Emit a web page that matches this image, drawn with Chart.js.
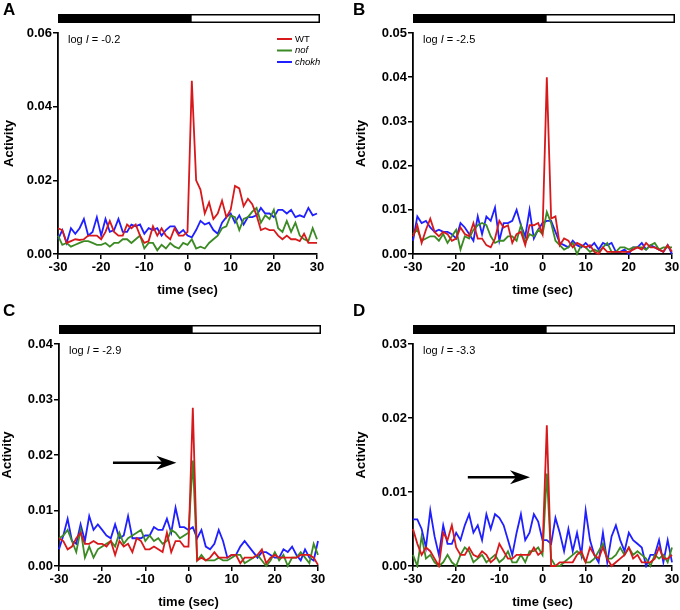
<!DOCTYPE html>
<html>
<head>
<meta charset="utf-8">
<script src="https://cdn.jsdelivr.net/npm/chart.js@4.4.1/dist/chart.umd.min.js"></script>
<style>
    body { margin: 0; background: #fff; }
    #wrap { position: relative; width: 680px; height: 610px; }
    canvas { position: absolute; }
</style>
</head>
<body>
<div id="wrap">
    <canvas id="panelA" width="340" height="300" style="left:0;top:0"></canvas>
    <canvas id="panelB" width="340" height="300" style="left:340px;top:0"></canvas>
    <canvas id="panelC" width="340" height="310" style="left:0;top:300px"></canvas>
    <canvas id="panelD" width="340" height="310" style="left:340px;top:300px"></canvas>
</div>
<script>
// time axis, 1 s bins
let times = [-30, -29, -28, -27, -26, -25, -24, -23, -22, -21, -20, -19, -18, -17, -16, -15, -14, -13, -12, -11,
    -10, -9, -8, -7, -6, -5, -4, -3, -2, -1, 0, 1, 2, 3, 4, 5, 6, 7, 8, 9, 10,
    11, 12, 13, 14, 15, 16, 17, 18, 19, 20, 21, 22, 23, 24, 25, 26, 27, 28, 29, 30];
let xTicks = [-30, -20, -10, 0, 10, 20, 30];
let seriesNames = ["WT", "nof", "chokh"];
let seriesColors = ["#d7191c", "#3b8a23", "#1f1fff"];

// panel A, log I = -0.2
let wtA = [0.007, 0.0065, 0.003, 0.0035, 0.004, 0.0038, 0.004, 0.005, 0.005, 0.005, 0.004, 0.006, 0.009, 0.006, 0.005, 0.005, 0.008, 0.007, 0.008, 0.005,
    0.003, 0.0035, 0.0075, 0.005, 0.007, 0.005, 0.004, 0.007, 0.005, 0.005, 0.006, 0.047, 0.020, 0.0175, 0.011, 0.014, 0.0095, 0.011, 0.0145, 0.010, 0.012,
    0.0185, 0.0178, 0.013, 0.015, 0.0135, 0.0105, 0.0065, 0.007, 0.0065, 0.0065, 0.005, 0.004, 0.005, 0.004, 0.004, 0.0035, 0.0055, 0.003, 0.003, 0.003];
let nofA = [0.005, 0.0025, 0.003, 0.002, 0.0025, 0.003, 0.0035, 0.0035, 0.003, 0.0025, 0.0025, 0.003, 0.002, 0.003, 0.003, 0.004, 0.004, 0.003, 0.004, 0.005,
    0.0015, 0.003, 0.003, 0.001, 0.0025, 0.0015, 0.003, 0.002, 0.0015, 0.003, 0.0025, 0.004, 0.0015, 0.002, 0.0015, 0.003, 0.004, 0.005, 0.007, 0.0075, 0.0105,
    0.010, 0.0065, 0.0095, 0.010, 0.0115, 0.0125, 0.0085, 0.0105, 0.0095, 0.012, 0.007, 0.006, 0.009, 0.006, 0.0085, 0.005, 0.004, 0.0035, 0.007, 0.004];
let chokhA = [0.004, 0.0065, 0.003, 0.007, 0.0055, 0.007, 0.0095, 0.005, 0.006, 0.010, 0.005, 0.0095, 0.006, 0.0065, 0.0095, 0.006, 0.006, 0.008, 0.0075, 0.008,
    0.0055, 0.007, 0.0065, 0.007, 0.005, 0.0065, 0.0075, 0.0075, 0.0055, 0.0065, 0.005, 0.0045, 0.0065, 0.009, 0.008, 0.0085, 0.0065, 0.0055, 0.0085, 0.010, 0.011,
    0.0085, 0.0105, 0.008, 0.010, 0.010, 0.0105, 0.0125, 0.011, 0.011, 0.010, 0.012, 0.012, 0.011, 0.012, 0.010, 0.0105, 0.010, 0.0125, 0.0105, 0.011];

// panel B, log I = -2.5
let wtB = [0.004, 0.0065, 0.0025, 0.0055, 0.008, 0.005, 0.004, 0.005, 0.0045, 0.003, 0.0035, 0.006, 0.0045, 0.004, 0.007, 0.0035, 0.0035, 0.002, 0.0015, 0.0035,
    0.0075, 0.006, 0.0065, 0.0025, 0.0045, 0.005, 0.002, 0.0065, 0.0065, 0.007, 0.0045, 0.040, 0.008, 0.0085, 0.002, 0.0035, 0.003, 0.0015, 0.0025, 0.002, 0.0015,
    0.002, 0.0005, 0, 0.0015, 0.0005, 0.0005, 0.0005, 0.0005, 0.0005, 0.0005, 0.001, 0.0015, 0.001, 0.0025, 0.0015, 0.0015, 0.001, 0.0005, 0.002, 0.0005];
let nofB = [0.0045, 0.0055, 0.003, 0.0035, 0.004, 0.004, 0.003, 0.0045, 0.0025, 0.004, 0.0055, 0.001, 0.004, 0.0035, 0.0055, 0.0065, 0.007, 0.0065, 0.004, 0.0025,
    0.003, 0.003, 0.004, 0.004, 0.003, 0.0065, 0.0025, 0.0045, 0.004, 0.0055, 0.0045, 0.0095, 0.007, 0.003, 0.002, 0.001, 0.0015, 0.0025, 0, 0.002, 0.0015,
    0.0005, 0.001, 0.0005, 0.0015, 0.0025, 0.0005, 0.0005, 0.0015, 0.0015, 0.001, 0.0015, 0.0015, 0.0015, 0.001, 0.002, 0.0025, 0.001, 0.0015, 0.0015, 0.0015];
let chokhB = [0.003, 0.0085, 0.007, 0.0075, 0.006, 0.005, 0.0055, 0.005, 0.005, 0.0045, 0.0035, 0.007, 0.006, 0.0045, 0.003, 0.0085, 0.0045, 0.0085, 0.0075, 0.0105,
    0.003, 0.007, 0.007, 0.0075, 0.010, 0.0065, 0.004, 0.010, 0.0035, 0.0055, 0.007, 0.0075, 0.0075, 0.005, 0.0025, 0.002, 0.0015, 0.003, 0.002, 0.0015, 0.0025,
    0.0015, 0.0025, 0.001, 0.0025, 0.002, 0.0025, 0.0005, 0.0005, 0.001, 0, 0.0015, 0.0015, 0.0025, 0.001, 0.002, 0.0015, 0.001, 0.0005, 0.002, 0];

// panel C, log I = -2.9
let wtC = [0.005, 0.0045, 0.003, 0.0035, 0.005, 0.006, 0.004, 0.004, 0.0045, 0.004, 0.004, 0.0035, 0.0045, 0.002, 0.0045, 0.0035, 0.004, 0.0025, 0.005, 0.0045,
    0.003, 0.003, 0.0035, 0.003, 0.0025, 0.006, 0.0025, 0.0045, 0.0045, 0.0035, 0.0035, 0.0285, 0.001, 0.0015, 0.001, 0.0015, 0.0025, 0.0015, 0.0015, 0.0015, 0.002,
    0.002, 0.0005, 0.0015, 0.0015, 0.0015, 0.002, 0.003, 0.0005, 0.0015, 0.002, 0.0015, 0.0015, 0.0015, 0.0015, 0.0015, 0.002, 0.002, 0.002, 0.0015, 0.0002];
let nofC = [0.005, 0.0055, 0.0065, 0.0045, 0.0025, 0.0065, 0.0015, 0.0035, 0.0015, 0.003, 0.0035, 0.004, 0.0045, 0.0035, 0.006, 0.004, 0.005, 0.0055, 0.006, 0.0065,
    0.0045, 0.0055, 0.0045, 0.005, 0.004, 0.0045, 0.0065, 0.006, 0.005, 0.0055, 0.006, 0.019, 0.001, 0.002, 0.001, 0.001, 0.001, 0.0015, 0.001, 0.001, 0.0015,
    0.002, 0.002, 0.0005, 0.001, 0.0015, 0.002, 0.001, 0, 0.001, 0.0025, 0.001, 0.002, 0, 0.0015, 0.0015, 0.0025, 0.0015, 0.0005, 0.004, 0.002];
let chokhC = [0.003, 0.0055, 0.0085, 0.0045, 0.004, 0.0075, 0.0045, 0.009, 0.0065, 0.0075, 0.0065, 0.0055, 0.005, 0.0075, 0.005, 0.0055, 0.009, 0.005, 0.005, 0.005,
    0.0055, 0.0055, 0.007, 0.0065, 0.0065, 0.0085, 0.006, 0.0105, 0.007, 0.007, 0.0065, 0.007, 0.005, 0.0065, 0.0035, 0.003, 0.004, 0.0065, 0.0045, 0.0015, 0.002,
    0.002, 0.0035, 0.0045, 0.0035, 0.0025, 0.0015, 0.0025, 0.0025, 0.002, 0.0015, 0.0015, 0.003, 0.0025, 0.0035, 0.002, 0.001, 0.003, 0.0015, 0.001, 0.0045];

// panel D, log I = -3.3
let wtD = [0.005, 0.003, 0.0015, 0.0025, 0.002, 0.001, 0, 0.0045, 0.0035, 0.0055, 0.0025, 0.0015, 0.0015, 0.0025, 0.0015, 0.0012, 0.002, 0.0015, 0.0005, 0.001,
    0.003, 0.002, 0.001, 0.001, 0.0015, 0.0015, 0.0015, 0.0015, 0.0025, 0.0015, 0.002, 0.019, 0, 0, 0.0005, 0.0005, 0.0005, 0.0005, 0.0015, 0.002, 0.0005,
    0.0025, 0.0015, 0.001, 0.0025, 0.001, 0, 0.0005, 0.001, 0.0015, 0.0025, 0.001, 0.0015, 0.0005, 0.0005, 0.0005, 0.001, 0.0025, 0.001, 0.001, 0.0015];
let nofD = [0.0015, 0, 0.004, 0.001, 0.0015, 0.0005, 0, 0.0005, 0.0015, 0.0005, 0, 0.0015, 0.0025, 0.002, 0.0005, 0.001, 0.0015, 0.0005, 0.001, 0.0015,
    0.0005, 0.001, 0.002, 0.0005, 0.0005, 0.0015, 0.0005, 0.002, 0.002, 0.0025, 0.0015, 0.0125, 0.001, 0, 0, 0.0005, 0.001, 0.0015, 0.002, 0.0015, 0.0005,
    0.0005, 0.001, 0.002, 0.003, 0.001, 0.001, 0.0015, 0.0025, 0.0015, 0.0025, 0.0015, 0.002, 0.0015, 0.001, 0, 0.0015, 0.001, 0.0015, 0.0005, 0.0025];
let chokhD = [0.0063, 0.0063, 0.005, 0.0025, 0.0075, 0.004, 0.0015, 0.0055, 0.003, 0.003, 0.0045, 0.0035, 0.0055, 0.007, 0.0045, 0.0055, 0.0035, 0.007, 0.005, 0.007,
    0.0065, 0.0055, 0.0035, 0.0015, 0.0045, 0.007, 0.0035, 0.0045, 0.007, 0.006, 0.0035, 0.0035, 0.003, 0.0065, 0.0045, 0.002, 0.005, 0.002, 0.0045, 0.0015, 0.0075,
    0.0035, 0.0015, 0.0005, 0.0045, 0.0005, 0.004, 0.0055, 0.0035, 0.002, 0.0045, 0.0035, 0.003, 0.0025, 0, 0.0015, 0.0015, 0.0035, 0.0005, 0.0035, 0.0005];

let yMaxes = [0.06, 0.05, 0.04, 0.03];
let ySteps = [0.02, 0.01, 0.01, 0.01];
let logLabels = ["-0.2", "-2.5", "-2.9", "-3.3"];
let panelLetters = ["A", "B", "C", "D"];
// arrow annotations in C and D: [x start, x end, y]
let arrowC = [-17.5, -2.8, 0.0186];
let arrowD = [-17.3, -2.9, 0.012];

const FONT = "'Liberation Sans', Arial, Helvetica, sans-serif";

function drawArrow(ctx, x0, x1, y) {
    ctx.save();
    ctx.strokeStyle = "#000";
    ctx.fillStyle = "#000";
    ctx.lineWidth = 2.5;
    ctx.beginPath();
    ctx.moveTo(x0, y);
    ctx.lineTo(x1 - 10, y);
    ctx.stroke();
    ctx.beginPath();
    ctx.moveTo(x1, y);
    ctx.lineTo(x1 - 20, y - 7);
    ctx.lineTo(x1 - 14, y);
    ctx.lineTo(x1 - 20, y + 7);
    ctx.closePath();
    ctx.fill();
    ctx.restore();
}

// panel letter, light bar, log I label, legend and arrows
const decoPlugin = {
    id: "deco",
    afterDraw(chart, args, opts) {
        const ctx = chart.ctx;
        const area = chart.chartArea;
        const xs = chart.scales.x;
        const ys = chart.scales.y;
        ctx.save();

        ctx.fillStyle = "#000";
        ctx.font = "bold 17px " + FONT;
        ctx.textBaseline = "top";
        ctx.textAlign = "left";
        ctx.fillText(opts.letter, opts.letterX, opts.letterY);

        // dark / light bar
        let bx0 = xs.getPixelForValue(-30);
        let bx1 = xs.getPixelForValue(30) + 3;
        let bm = xs.getPixelForValue(1);
        let by = area.top - 19;
        ctx.fillStyle = "#000";
        ctx.fillRect(bx0, by, bm - bx0, 9);
        ctx.fillStyle = "#fff";
        ctx.fillRect(bm, by, bx1 - bm, 9);
        ctx.strokeStyle = "#000";
        ctx.lineWidth = 1.5;
        ctx.strokeRect(bx0 + 0.75, by + 0.75, bx1 - bx0 - 1.5, 7.5);

        // log I label
        ctx.fillStyle = "#000";
        ctx.textBaseline = "middle";
        let tx = area.left + 10;
        let ty = area.top + 7;
        ctx.font = "11px " + FONT;
        ctx.fillText("log ", tx, ty);
        tx += ctx.measureText("log ").width;
        ctx.font = "italic 11px " + FONT;
        ctx.fillText("I", tx, ty);
        tx += ctx.measureText("I").width;
        ctx.font = "11px " + FONT;
        ctx.fillText(" = " + opts.logI, tx, ty);

        if (opts.legend) {
            chart.data.datasets.forEach(function (ds, i) {
                let ly = area.top + 6 + i * 11.5;
                ctx.strokeStyle = ds.borderColor;
                ctx.lineWidth = 2;
                ctx.beginPath();
                ctx.moveTo(area.right - 40, ly);
                ctx.lineTo(area.right - 25, ly);
                ctx.stroke();
                ctx.fillStyle = "#000";
                ctx.font = (i == 0 ? "" : "italic ") + "9.5px " + FONT;
                ctx.fillText(ds.label, area.right - 22, ly);
            });
        }

        if (opts.arrow) {
            drawArrow(ctx, xs.getPixelForValue(opts.arrow[0]), xs.getPixelForValue(opts.arrow[1]), ys.getPixelForValue(opts.arrow[2]));
        }
        ctx.restore();
    },
};

function makePanel(id, idx, series, box) {
    let ctx = document.getElementById(id).getContext("2d");
    let canvasH = document.getElementById(id).height;
    return new Chart(ctx, {
        type: "line",
        data: {
            datasets: series.map(function (vals, i) {
                return {
                    label: seriesNames[i],
                    data: times.map(function (t, k) { return { x: t, y: vals[k] }; }),
                    borderColor: seriesColors[i],
                    borderWidth: 1.8,
                    pointRadius: 0,
                    tension: 0,
                    fill: false,
                    clip: 2,
                };
            }),
        },
        options: {
            responsive: false,
            animation: false,
            events: [],
            layout: {
                padding: { left: box.padLeft, right: 340 - box.right, top: box.top, bottom: 0 },
            },
            scales: {
                x: {
                    type: "linear",
                    min: -30,
                    max: 30,
                    afterBuildTicks: function (scale) {
                        scale.ticks = xTicks.map(function (v) { return { value: v }; });
                    },
                    afterFit: function (scale) {
                        scale.height = canvasH - box.bottom;
                        scale.paddingLeft = 0;
                        scale.paddingRight = 0;
                    },
                    grid: { drawOnChartArea: false, drawTicks: true, tickLength: 5, color: "#000", lineWidth: 1.5 },
                    border: { display: true, color: "#000", width: 1.8 },
                    ticks: { color: "#000", padding: 1, maxRotation: 0, font: { family: FONT, size: 13, weight: "bold" } },
                    title: {
                        display: true,
                        text: "time (sec)",
                        color: "#000",
                        padding: { top: 0, bottom: box.xTitlePad },
                        font: { family: FONT, size: 13, weight: "bold" },
                    },
                },
                y: {
                    min: 0,
                    max: yMaxes[idx],
                    ticks: {
                        stepSize: ySteps[idx],
                        color: "#000",
                        padding: 1,
                        font: { family: FONT, size: 13, weight: "bold" },
                        callback: function (v) { return v.toFixed(2); },
                    },
                    afterFit: function (scale) {
                        scale.width = box.left - box.padLeft;
                    },
                    grid: { drawOnChartArea: false, drawTicks: true, tickLength: 5, color: "#000", lineWidth: 1.5 },
                    border: { display: true, color: "#000", width: 1.8 },
                    title: {
                        display: true,
                        text: "Activity",
                        color: "#000",
                        padding: { top: box.yTitlePad, bottom: 0 },
                        font: { family: FONT, size: 13, weight: "bold" },
                    },
                },
            },
            plugins: {
                legend: { display: false },
                tooltip: { enabled: false },
                deco: {
                    letter: panelLetters[idx],
                    letterX: box.letterX,
                    letterY: box.letterY,
                    logI: logLabels[idx],
                    legend: box.legend,
                    arrow: box.arrow,
                },
            },
        },
        plugins: [decoPlugin],
    });
}

makePanel("panelA", 0, [wtA, nofA, chokhA],
    { left: 58, right: 317, top: 33, bottom: 254, padLeft: 0, yTitlePad: 2, xTitlePad: 2, letterX: 3, letterY: 2, legend: true, arrow: null });
makePanel("panelB", 1, [wtB, nofB, chokhB],
    { left: 73, right: 332, top: 33, bottom: 254, padLeft: 12, yTitlePad: 2, xTitlePad: 2, letterX: 13, letterY: 2, legend: false, arrow: null });
makePanel("panelC", 2, [wtC, nofC, chokhC],
    { left: 59, right: 318, top: 44, bottom: 266, padLeft: 0, yTitlePad: 0, xTitlePad: 0, letterX: 3, letterY: 3, legend: false, arrow: arrowC });
makePanel("panelD", 3, [wtD, nofD, chokhD],
    { left: 73, right: 332, top: 44, bottom: 266, padLeft: 12, yTitlePad: 2, xTitlePad: 0, letterX: 13, letterY: 3, legend: false, arrow: arrowD });
</script>
</body>
</html>
